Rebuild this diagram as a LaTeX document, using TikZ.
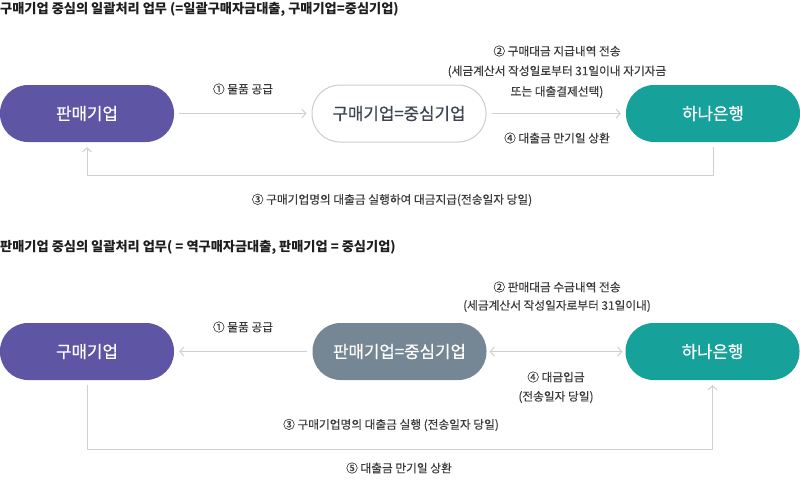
\documentclass[tikz,border=0pt]{standalone}
\usepackage{fontspec}
\setmainfont{Noto Sans CJK KR}
\newfontfamily\krmed[FakeBold=0.6]{Noto Sans CJK KR}
\newfontfamily\krlab[FakeBold=0.25]{Noto Sans CJK KR}
\usetikzlibrary{arrows.meta}
\definecolor{purp}{HTML}{5E55A5}
\definecolor{teal}{HTML}{17A19B}
\definecolor{slate}{HTML}{758795}
\definecolor{bord}{HTML}{C9CDD3}
\definecolor{ln}{HTML}{CFCFCF}
\definecolor{lbl}{HTML}{3A3A3A}
\definecolor{ttl}{HTML}{1E1E1E}
\definecolor{dk}{HTML}{3C4550}
\begin{document}
\begin{tikzpicture}[x=1pt,y=-1pt,
  pill/.style={rectangle, rounded corners=28pt, minimum width=174pt, minimum height=57pt, inner sep=0pt, font=\krmed\fontsize{16.8}{18}\selectfont},
  filled/.style={pill, fill=#1, text=white},
  hollow/.style={pill, fill=white, draw=bord, line width=1pt, text=dk},
  lab/.style={text=lbl, font=\krlab\fontsize{11.7}{13}\selectfont, inner sep=0pt},
  ttlst/.style={text=ttl, font=\fontsize{13.2}{15}\selectfont\bfseries, inner sep=0pt, anchor=west},
  conn/.style={draw=ln, line width=1pt},
  ar/.style={conn, -{Straight Barb[length=4pt,width=9pt]}},
  dar/.style={conn, {Straight Barb[length=4pt,width=9pt]}-{Straight Barb[length=4pt,width=9pt]}}]
\useasboundingbox (0,0) rectangle (800,482);
% ---- top
\node[ttlst] (t1) at (0,9) {구매기업 중심의 일괄처리 업무 (=일괄구매자금대출, 구매기업=중심기업)};
\node[filled=purp] (sell1) at (87,113.5) {판매기업};
\node[hollow] (buy1) at (399,113.5) {구매기업=중심기업};
\node[filled=teal] (hana1) at (713,113.5) {하나은행};
\draw[ar, shorten <=5pt, shorten >=5pt] (sell1) -- (buy1);
\draw[ar, shorten <=5pt, shorten >=5pt] (buy1) -- (hana1);
\coordinate (r1) at (713,175);
\coordinate (l1) at (87,175);
\draw[ar, shorten <=5pt, shorten >=5pt] (hana1.south) -- (r1) -- (l1) -- (sell1.south);
\node[lab] (a1) at (243,89) {① 물품 공급};
\node[lab] (a2a) at (557,51) {② 구매대금 지급내역 전송};
\node[lab] (a2b) at (557,71.5) {(세금계산서 작성일로부터 31일이내 자기자금};
\node[lab] (a2c) at (557,92) {또는 대출결제선택)};
\node[lab] (a4) at (557,138) {④ 대출금 만기일 상환};
\node[lab] (a3) at (392,200) {③ 구매기업명의 대출금 실행하여 대금지급(전송일자 당일)};
% ---- bottom
\node[ttlst] (t2) at (0,247) {판매기업 중심의 일괄처리 업무( = 역구매자금대출, 판매기업 = 중심기업)};
\node[filled=purp] (buy2) at (87,351.5) {구매기업};
\node[filled=slate] (sell2) at (399.5,351.5) {판매기업=중심기업};
\node[filled=teal] (hana2) at (712.5,351.5) {하나은행};
\draw[ar, shorten <=5pt, shorten >=5pt] (sell2) -- (buy2);
\draw[dar, shorten <=3pt, shorten >=3pt] (sell2) -- (hana2);
\coordinate (l2) at (87,449);
\coordinate (r2) at (712.5,449);
\draw[ar, shorten <=5pt, shorten >=5pt] (buy2.south) -- (l2) -- (r2) -- (hana2.south);
\node[lab] (b1) at (243,327) {① 물품 공급};
\node[lab] (b2a) at (557,287) {② 판매대금 수금내역 전송};
\node[lab] (b2b) at (557,306) {(세금계산서 작성일자로부터 31일이내)};
\node[lab] (b4a) at (556,377) {④ 대금입금};
\node[lab] (b4b) at (556,397) {(전송일자 당일)};
\node[lab] (b3) at (391,425) {③ 구매기업명의 대출금 실행 (전송일자 당일)};
\node[lab] (b5) at (399,468) {⑤ 대출금 만기일 상환};
\end{tikzpicture}
\end{document}
